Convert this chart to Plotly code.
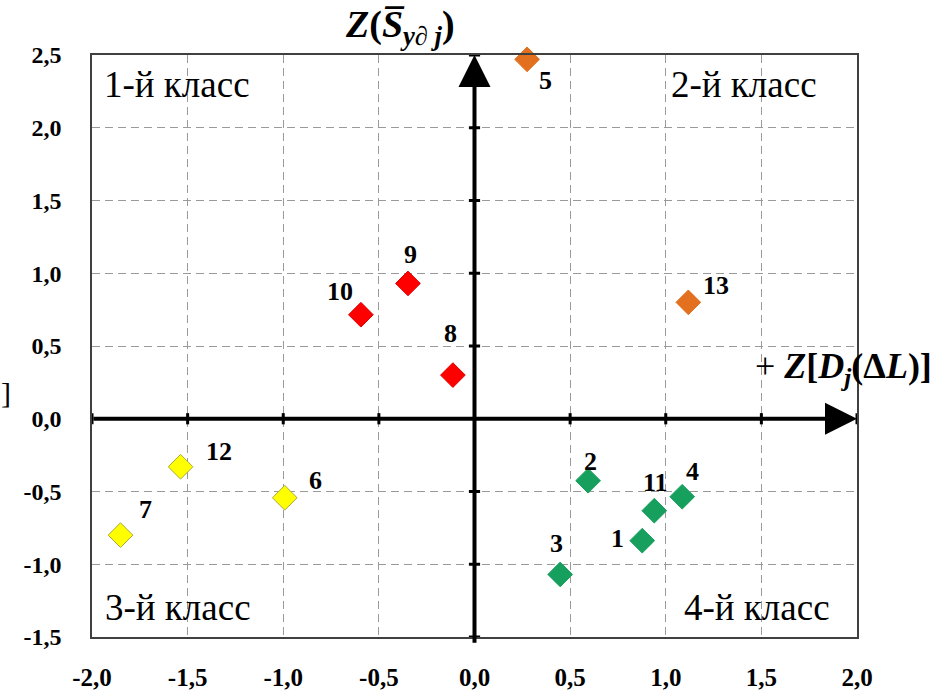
import plotly.graph_objects as go

# Object numbers and their standardized coordinates
point_ids = ["1", "2", "3", "4", "5", "6", "7", "8", "9", "10", "11", "12", "13"]
z_dispersion = [0.877, 0.594, 0.448, 1.086, 0.275, -0.992, -1.851, -0.113, -0.348, -0.594, 0.94, -1.537, 1.118]
z_mean = [-0.838, -0.426, -1.07, -0.536, 2.47, -0.543, -0.80, 0.30, 0.93, 0.715, -0.632, -0.33, 0.80]
point_group = ["green", "green", "green", "green", "orange", "yellow", "yellow",
               "red", "red", "red", "green", "yellow", "orange"]

tick_values = [-2.0, -1.5, -1.0, -0.5, 0.0, 0.5, 1.0, 1.5, 2.0, 2.5]
tick_labels = ["-2,0", "-1,5", "-1,0", "-0,5", "0,0", "0,5", "1,0", "1,5", "2,0", "2,5"]

class_names = ["1-й класс", "2-й класс", "3-й класс", "4-й класс"]

# Marker styling per group
fill = {"green": "#17A05D", "orange": "#E2701E", "yellow": "#FFFF00", "red": "#FF0000"}
edge = {"green": "#17A05D", "orange": "#E2701E", "yellow": "#A9A93A", "red": "#E00000"}

# Pixel offsets for the number labels (dx right, dy up)
label_offsets = {
    "1": (-25, 2), "2": (2, 19), "3": (-4, 31), "4": (10, 25), "5": (18, -21),
    "6": (31, 17), "7": (25, 26), "8": (-2, 42), "9": (3, 29), "10": (-21, 23),
    "11": (1, 28), "12": (38, 15), "13": (28, 17),
}

serif = "Liberation Serif, Times New Roman, serif"
W, H = 946, 700
L, R, T, B = 92, 857, 55, 637  # plot area edges in pixels


def dom_x(px):
    return (px - L) / (R - L)


def dom_y(py):
    return (B - py) / (B - T)


def paper_text(text, px, py, size, bold=False):
    return dict(x=dom_x(px), y=dom_y(py), xref="paper", yref="paper",
                text=f"<b>{text}</b>" if bold else text, showarrow=False,
                xanchor="center", yanchor="middle",
                font=dict(family=serif, size=size, color="black"))


fig = go.Figure()

# Small tick marks along the black axes
x_marks = [v for v in tick_values if abs(v) <= 2 and v != 0]
y_marks = [v for v in tick_values if -1.5 <= v <= 2.5 and v != 0]
fig.add_trace(go.Scatter(
    x=x_marks, y=[0] * len(x_marks), mode="markers",
    marker=dict(symbol="line-ns", size=8, line=dict(width=3, color="black")),
    hoverinfo="skip", showlegend=False))
fig.add_trace(go.Scatter(
    x=[0] * len(y_marks), y=y_marks, mode="markers",
    marker=dict(symbol="line-ew", size=8, line=dict(width=3, color="black")),
    hoverinfo="skip", showlegend=False))

for grp in ["red", "orange", "yellow", "green"]:
    idx = [i for i, g in enumerate(point_group) if g == grp]
    fig.add_trace(go.Scatter(
        x=[z_dispersion[i] for i in idx], y=[z_mean[i] for i in idx],
        mode="markers",
        marker=dict(symbol="diamond", size=19, color=fill[grp], line=dict(width=1, color=edge[grp])),
        showlegend=False, cliponaxis=False))

annotations = []
for pid, xv, yv in zip(point_ids, z_dispersion, z_mean):
    dx, dy = label_offsets[pid]
    annotations.append(dict(x=xv, y=yv, xref="x", yref="y", text=f"<b>{pid}</b>",
                            showarrow=False, xshift=dx, yshift=dy,
                            xanchor="center", yanchor="middle",
                            font=dict(family=serif, size=26, color="black")))

# Coordinate axes with arrows
annotations.append(dict(x=2.0, y=0, ax=-2.0, ay=0, xref="x", yref="y", axref="x", ayref="y",
                        text="", showarrow=True, arrowhead=2, arrowsize=1.6, arrowwidth=4,
                        arrowcolor="black"))
annotations.append(dict(x=0, y=2.5, ax=0, ay=-1.55, xref="x", yref="y", axref="x", ayref="y",
                        text="", showarrow=True, arrowhead=2, arrowsize=1.6, arrowwidth=4,
                        arrowcolor="black"))

# Class names in the quadrants
for name, (xp, yp) in zip(class_names, [(177, 84), (744, 84), (178, 607), (757, 607)]):
    annotations.append(paper_text(name, xp, yp, 37))

# Axis titles
annotations.append(paper_text("<i>Z</i>(<i>S\u0305</i><sub><i>y\u2202 j</i></sub>)", 400, 27, 38, bold=True))
annotations.append(dict(x=dom_x(843), y=dom_y(368), xref="paper", yref="paper",
                        text="+ <b><i>Z</i>[<i>D<sub>j</sub></i>(Δ<i>L</i>)]</b>",
                        showarrow=False, xanchor="center", yanchor="middle",
                        font=dict(family=serif, size=36, color="black")))
annotations.append(paper_text("]", 6, 393, 30))

fig.update_layout(
    width=W, height=H,
    margin=dict(l=L, r=W - R, t=T, b=H - B, autoexpand=False),
    paper_bgcolor="white", plot_bgcolor="white",
    annotations=annotations,
    xaxis=dict(range=[-2.0, 2.0], tickvals=tick_values[:9], ticktext=tick_labels[:9],
               showgrid=True, gridcolor="#9A9A9A", griddash="8px,5px", gridwidth=1,
               zeroline=False, showline=True, mirror=True, linecolor="#404040", linewidth=1.5,
               ticks="", ticklabelstandoff=17, automargin=False,
               tickfont=dict(family=serif, size=25, color="black", weight="bold")),
    yaxis=dict(range=[-1.5, 2.5], tickvals=tick_values[1:], ticktext=tick_labels[1:],
               showgrid=True, gridcolor="#9A9A9A", griddash="8px,5px", gridwidth=1,
               zeroline=False, showline=True, mirror=True, linecolor="#404040", linewidth=1.5,
               ticks="", ticklabelstandoff=24, automargin=False,
               tickfont=dict(family=serif, size=24, color="black", weight="bold")),
)

fig.write_html("out.html")
